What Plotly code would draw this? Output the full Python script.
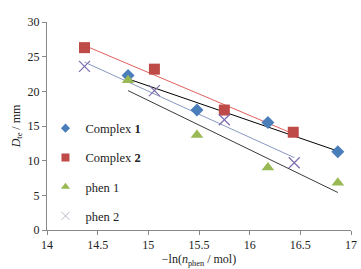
import numpy as np
import plotly.graph_objects as go

c1_x = [14.8, 15.48, 16.18, 16.87]
c1_y = [22.3, 17.3, 15.5, 11.3]
c2_x = [14.37, 15.06, 15.75, 16.43]
c2_y = [26.3, 23.2, 17.3, 14.1]
p1_x = [14.8, 15.48, 16.18, 16.87]
p1_y = [21.6, 13.7, 9.0, 6.8]
p2_x = [14.37, 15.06, 15.75, 16.44]
p2_y = [23.6, 20.1, 15.9, 9.7]

names = ["Complex <b>1</b>", "Complex <b>2</b>", "phen 1", "phen 2"]
series = [(c1_x, c1_y), (c2_x, c2_y), (p1_x, p1_y), (p2_x, p2_y)]
mk_sym = ["diamond", "square", "triangle-up", "x-thin-open"]
mk_col = ["#4a7ebb", "#be4b48", "#98b954", "#7d6bad"]
mk_size = [10, 11, 11, 11]
lg_size = [7, 8, 8, 8]
tr_col = ["#000000", "#e0605c", "#3a3a3a", "#8898c0"]

font = "Liberation Serif"
fig = go.Figure()
for i, (xs, ys) in enumerate(series):
    k, b = np.polyfit(xs, ys, 1)
    xe = [min(xs), max(xs)]
    fig.add_trace(go.Scatter(x=xe, y=[k * v + b for v in xe], mode="lines",
                             line=dict(color=tr_col[i], width=1), showlegend=False,
                             hoverinfo="skip"))
for i, (xs, ys) in enumerate(series):
    marker = dict(symbol=mk_sym[i], color=mk_col[i], size=mk_size[i])
    if mk_sym[i] == "x-thin-open":
        marker["line"] = dict(color=mk_col[i], width=1.2)
    fig.add_trace(go.Scatter(x=xs, y=ys, mode="markers", name=names[i], marker=marker,
                             legendgroup=str(i), showlegend=False))
    # legend entry with smaller symbol, as in the reference
    lmarker = dict(symbol=mk_sym[i], color=mk_col[i], size=lg_size[i])
    if mk_sym[i] == "x-thin-open":
        lmarker["color"] = "#b8b8c8"
        lmarker["line"] = dict(color="#b8b8c8", width=1)
    fig.add_trace(go.Scatter(x=[None], y=[None], mode="markers", name=names[i],
                             marker=lmarker, legendgroup=str(i)))

fig.update_layout(
    width=361, height=269,
    margin=dict(l=47, r=10, t=22, b=39, autoexpand=False),
    paper_bgcolor="white", plot_bgcolor="white",
    font=dict(family=font, size=12, color="#222"),
    legend=dict(x=-0.005, y=0.56, xanchor="left", yanchor="top", tracegroupgap=10,
                bgcolor="rgba(0,0,0,0)", font=dict(family=font, size=12.5),
                itemsizing="trace"),
    xaxis=dict(range=[14, 17], dtick=0.5, showgrid=False, zeroline=False,
               showline=True, linecolor="#888", linewidth=1, ticks="outside",
               ticklen=4, tickcolor="#888", automargin=False,
               tickfont=dict(family=font, size=12),
               title=dict(text="−ln(<i>n</i><sub>phen</sub> / mol)", standoff=0,
                          font=dict(family=font, size=12))),
    yaxis=dict(range=[0, 30], dtick=5, showgrid=False, zeroline=False,
               showline=True, linecolor="#888", linewidth=1, ticks="outside",
               ticklen=4, tickcolor="#888", automargin=False,
               tickfont=dict(family=font, size=12),
               title=dict(text="<i>D</i><sub>te</sub> / mm", standoff=4,
                          font=dict(family=font, size=12))),
)
fig.write_html("out.html", config={"displayModeBar": False},
               post_script="document.body.style.margin='0';document.body.style.overflow='hidden';")
